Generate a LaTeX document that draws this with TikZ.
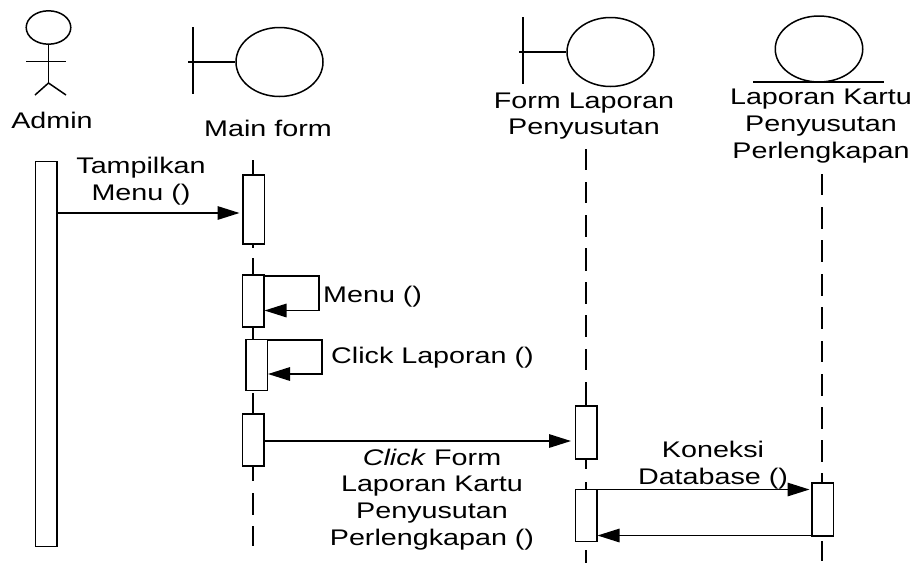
\documentclass[tikz,border=0pt]{standalone}
\usepackage{fontspec}
\setmainfont[FakeStretch=1.27]{Liberation Sans}
\usetikzlibrary{arrows.meta,shapes.geometric}
\tikzset{
  ln/.style={line width=1.5pt,black},
  lifeline/.style={ln},
  bar/.style={draw,line width=1.5pt,fill=white,rectangle,inner sep=0pt,minimum width=21.5pt},
  txt/.style={inner sep=0pt,align=center,font=\fontsize{22.6}{26.8}\selectfont},
  msg/.style={ln,-{Triangle[length=22pt,width=13.5pt]}},
  oval/.style={draw,line width=1.5pt,ellipse,inner sep=0pt}
}
\begin{document}
\begin{tikzpicture}[x=1pt,y=-1pt]
\useasboundingbox (0,0) rectangle (917,563);
% lifelines
\draw[lifeline] (253,160) -- (253,176);
\draw[lifeline] (253,243) -- (253,248);
\draw[lifeline] (253,258) -- (253,276);
\draw[lifeline] (253,326) -- (253,341);
\draw[lifeline] (253,393) -- (253,415);
\draw[lifeline] (253,465) -- (253,481);
\draw[lifeline] (253,493) -- (253,515);
\draw[lifeline] (253,526) -- (253,546);
\draw[lifeline] (586,149) -- (586,170);
\draw[lifeline] (586,182) -- (586,203);
\draw[lifeline] (586,215) -- (586,237);
\draw[lifeline] (586,248) -- (586,271);
\draw[lifeline] (586,282) -- (586,304);
\draw[lifeline] (586,315) -- (586,337);
\draw[lifeline] (586,349) -- (586,370);
\draw[lifeline] (586,382) -- (586,407);
\draw[lifeline] (586,459) -- (586,469);
\draw[lifeline] (586,482) -- (586,490);
\draw[lifeline] (586,550) -- (586,563);
\draw[lifeline] (822,174) -- (822,195);
\draw[lifeline] (822,207) -- (822,229);
\draw[lifeline] (822,240) -- (822,262);
\draw[lifeline] (822,274) -- (822,296);
\draw[lifeline] (822,307) -- (822,329);
\draw[lifeline] (822,341) -- (822,362);
\draw[lifeline] (822,374) -- (822,396);
\draw[lifeline] (822,407) -- (822,429);
\draw[lifeline] (822,440) -- (822,462);
\draw[lifeline] (822,473) -- (822,483);
\draw[lifeline] (822,541) -- (822,561);
% activation bars
\node[bar,minimum height=385pt] (adminbar) at (46,354) {};
\node[bar,minimum height=69pt] (mb1) at (253.5,209.5) {};
\node[bar,minimum height=52pt] (mb2) at (253,301) {};
\node[bar,minimum height=51pt] (mb3) at (256.5,365) {};
\node[bar,minimum height=52pt] (mb4) at (253,440) {};
\node[bar,minimum height=53pt] (fb1) at (586,432.5) {};
\node[bar,minimum height=52pt] (fb2) at (586,515.5) {};
\node[bar,minimum height=53pt] (lb1) at (822.5,509.5) {};
% actor
\node[oval,minimum width=44.6pt,minimum height=33.4pt] (head) at (48.5,27.5) {};
\coordinate (hip) at (49,83);
\coordinate (armL) at (26,61.5);
\coordinate (armR) at (66,61.5);
\coordinate (legL) at (35,95);
\coordinate (legR) at (66,95);
\draw[ln] (head.south) -- (head.south |- hip);
\draw[ln] (armL) -- (armR);
\draw[ln] (legL) -- (head.south |- hip) -- (legR);
% boundary: main form
\node[oval,minimum width=87pt,minimum height=69pt] (bo1) at (279.5,62) {};
\coordinate (t1a) at (193,27);
\coordinate (t1b) at (193,94);
\coordinate (t1c) at (188,62);
\draw[ln] (t1a) -- (t1b);
\draw[ln] (t1c) -- (bo1.west);
% boundary: form laporan
\node[oval,minimum width=87pt,minimum height=69pt] (bo2) at (610.5,52) {};
\coordinate (t2a) at (523,17);
\coordinate (t2b) at (523,84);
\coordinate (t2c) at (519,52);
\draw[ln] (t2a) -- (t2b);
\draw[ln] (t2c) -- (bo2.west);
% entity
\node[oval,minimum width=87.5pt,minimum height=66pt] (ent) at (819,49) {};
\coordinate (e1) at (753,82);
\coordinate (e2) at (884,82);
\draw[ln] (e1) -- (e2);
% messages
\coordinate (y1) at (0,213);
\coordinate (y2) at (0,441);
\coordinate (y3) at (0,489.5);
\coordinate (y4) at (0,535.5);
\draw[msg,shorten >=2.5pt] (adminbar.east |- y1) -- (mb1.west |- y1);
\draw[msg,shorten >=3.5pt] (mb4.east |- y2) -- (fb1.west |- y2);
\draw[msg,shorten >=1.5pt] (fb2.east |- y3) -- (lb1.west |- y3);
\draw[msg] (lb1.west |- y4) -- (fb2.east |- y4);
\coordinate (s1) at (319,276);
\coordinate (s2) at (319,310.5);
\coordinate (s3) at (322,340);
\coordinate (s4) at (322,374);
\draw[msg] (mb2.east |- s1) -- (s1) -- (s2) -- (mb2.east |- s2);
\draw[msg] (mb3.east |- s3) -- (s3) -- (s4) -- (mb3.east |- s4);
% labels
\node[txt] (tadmin) at (52,120) {Admin};
\node[txt] (tmain) at (268,128.5) {Main form};
\node[txt] (tform) at (584,116) {Form Laporan\\Penyusutan};
\node[txt] (tlap) at (821,126) {Laporan Kartu\\Penyusutan\\Perlengkapan};
\node[txt] (ttamp) at (141,181) {Tampilkan\\Menu ()};
\node[txt,anchor=west] (tmenu) at (323,296.5) {Menu ()};
\node[txt,anchor=west] (tclick) at (331,358) {Click Laporan ()};
\node[txt] (tcf) at (432,499.5) {\textit{Click} Form\\Laporan Kartu\\Penyusutan\\Perlengkapan ()};
\node[txt] (tkon) at (713,465.5) {Koneksi\\Database ()};
\end{tikzpicture}
\end{document}
